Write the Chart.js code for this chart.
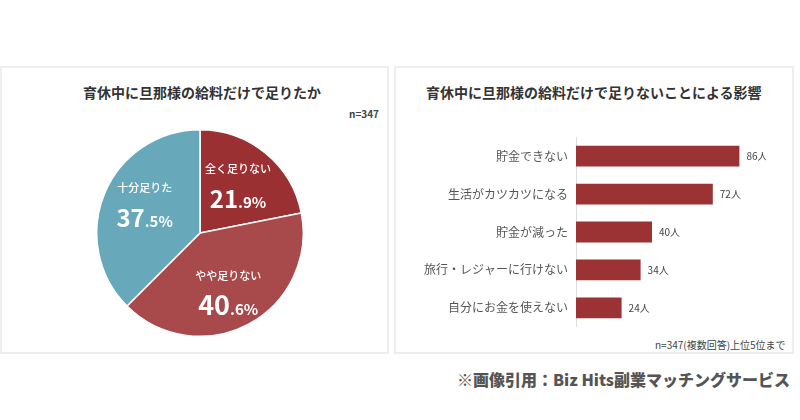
<!DOCTYPE html>
<html><head><meta charset="utf-8">
<script src="https://cdn.jsdelivr.net/npm/chart.js@4"></script>
<style>
body{margin:0;width:800px;height:420px;background:#fff;position:relative;font-family:"Noto Sans CJK JP",sans-serif;overflow:hidden}
.panel{position:absolute;top:66px;height:288px;border:2px solid #eee;box-sizing:border-box}
.t{position:absolute;font-weight:bold;color:#333;font-size:14px;white-space:nowrap}
.s{position:absolute;color:#444;font-size:10px;white-space:nowrap}
canvas{position:absolute}
</style></head><body>
<div class="panel" style="left:0;width:389px"></div>
<div class="panel" style="left:394px;width:400px"></div>
<div class="t" style="left:83px;top:82px">育休中に旦那様の給料だけで足りたか</div>
<div class="s" style="left:349px;top:106px;font-weight:bold">n=347</div>
<div class="t" style="left:426px;top:82px">育休中に旦那様の給料だけで足りないことによる影響</div>
<div class="s" style="left:655px;top:337px">n=347(複数回答)上位5位まで</div>
<div class="t" style="right:10px;top:367px;font-size:16px;color:#555;font-weight:900">※画像引用：Biz Hits副業マッチングサービス</div>
<canvas id="pie" style="left:94px;top:127px;width:212px;height:212px" width="212" height="212"></canvas>
<canvas id="bar" style="left:400px;top:122px;width:366px;height:220px" width="366" height="220"></canvas>
<script>
const pieLabels=["全く足りない","やや足りない","十分足りた"];
const pieValues=[21.9,40.6,37.5];
const pieColors=["#9b3032","#a84a4b","#67a8bb"];
const barLabels=["貯金できない","生活がカツカツになる","貯金が減った","旅行・レジャーに行けない","自分にお金を使えない"];
const barValues=[86,72,40,34,24];
const F='"Noto Sans CJK JP",sans-serif';
const pieText={id:'pt',afterDatasetsDraw(c){
 const ctx=c.ctx;const m=c.getDatasetMeta(0);
 const offs=[[0,0],[0,8],[0,-4]];
 m.data.forEach((a,i)=>{
  const mid=(a.startAngle+a.endAngle)/2;const r=a.outerRadius*0.58;
  const x=a.x+Math.cos(mid)*r+offs[i][0], y=a.y+Math.sin(mid)*r+offs[i][1];
  ctx.save();ctx.fillStyle='#fff';ctx.textAlign='center';ctx.textBaseline='middle';
  ctx.font='500 11px '+F;ctx.fillText(pieLabels[i],x,y-18);
  const v=pieValues[i].toFixed(1).split('.');
  const big=i==1?'bold 27px ':'bold 24px ';
  ctx.font=big+F;const w1=ctx.measureText(v[0]).width;
  ctx.font='bold 15px '+F;const w2=ctx.measureText('.'+v[1]+'%').width;
  const sx=x-(w1+w2)/2;ctx.textAlign='left';ctx.textBaseline='alphabetic';
  ctx.font=big+F;ctx.fillText(v[0],sx,y+21);
  ctx.font='bold 15px '+F;ctx.fillText('.'+v[1]+'%',sx+w1,y+21);
  ctx.restore();});
}};
new Chart(document.getElementById('pie'),{type:'pie',
 data:{labels:pieLabels,datasets:[{data:pieValues,backgroundColor:pieColors,borderColor:'#fff',borderWidth:1.5}]},
 options:{responsive:false,animation:false,layout:{padding:2},plugins:{legend:{display:false},tooltip:{enabled:false}}},
 plugins:[pieText]});
const barText={id:'bt',afterDatasetsDraw(c){
 const ctx=c.ctx;const m=c.getDatasetMeta(0);
 ctx.save();ctx.fillStyle='#444';ctx.font='10px '+F;ctx.textBaseline='middle';
 m.data.forEach((b,i)=>ctx.fillText(barValues[i]+'人',b.x+7,b.y));ctx.restore();}};
new Chart(document.getElementById('bar'),{type:'bar',
 data:{labels:barLabels,datasets:[{data:barValues,backgroundColor:'#9b3234',barPercentage:0.55,categoryPercentage:1}]},
 options:{indexAxis:'y',responsive:false,animation:false,layout:{padding:0},
  plugins:{legend:{display:false},tooltip:{enabled:false}},
  scales:{x:{display:false,min:0,max:100},
   y:{afterFit(s){s.width=176;},grid:{display:false,drawTicks:false},border:{color:'#ddd'},
      ticks:{color:'#555',padding:8,font:{size:12,family:F}}}}},
 plugins:[barText]});
</script></body></html>
